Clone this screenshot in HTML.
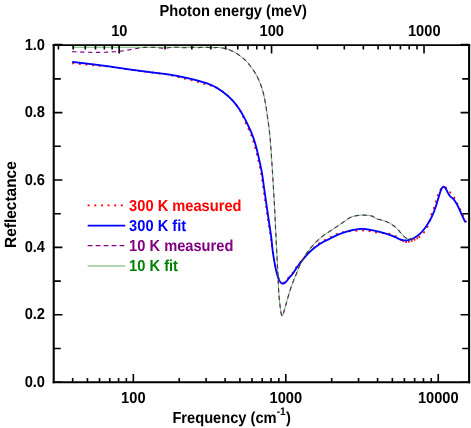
<!DOCTYPE html>
<html>
<head>
<meta charset="utf-8">
<title>Reflectance</title>
<style>
html,body{margin:0;padding:0;background:#fff;}
body{width:471px;height:428px;overflow:hidden;font-family:"Liberation Sans",sans-serif;}
svg{display:block;will-change:transform;}
</style>
</head>
<body>
<svg width="471" height="428" viewBox="0 0 471 428">
<g fill="none" stroke-linecap="butt" stroke-linejoin="round">
<path d="M72.20 63.30L72.80 63.36L73.39 63.41L73.99 63.47L74.58 63.52L75.18 63.58L75.78 63.63L76.37 63.69L76.97 63.75L77.56 63.80L78.16 63.86L78.76 63.92L79.35 63.97L79.95 64.03L80.54 64.09L81.14 64.15L81.74 64.21L82.33 64.26L82.93 64.32L83.52 64.38L84.12 64.44L84.72 64.50L85.31 64.56L85.91 64.61L86.50 64.67L87.10 64.73L87.69 64.79L88.29 64.85L88.89 64.91L89.48 64.97L90.08 65.03L90.67 65.09L91.27 65.15L91.86 65.21L92.46 65.27L93.06 65.33L93.65 65.39L94.25 65.45L94.84 65.51L95.44 65.57L96.03 65.63L96.63 65.67L97.22 65.71L97.82 65.76L98.41 65.80L99.01 65.84L99.61 65.89L100.20 65.93L100.80 65.97L101.39 66.02L101.99 66.06L102.58 66.11L103.18 66.15L103.77 66.20L104.37 66.24L104.96 66.29L105.55 66.33L106.15 66.38L106.74 66.43L107.34 66.48L107.93 66.53L108.53 66.61L109.12 66.69L109.71 66.77L110.31 66.86L110.90 66.94L111.50 67.03L112.09 67.11L112.68 67.20L113.28 67.28L113.87 67.37L114.46 67.45L115.06 67.54L115.65 67.63L116.25 67.72L116.84 67.80L117.43 67.89L118.03 67.98L118.62 68.07L119.21 68.16L119.81 68.24L120.40 68.33L120.99 68.42L121.59 68.51L122.18 68.59L122.77 68.68L123.37 68.77L123.96 68.86L124.55 68.94L125.15 69.03L125.74 69.11L126.34 69.20L126.93 69.28L127.52 69.37L128.12 69.45L128.71 69.53L129.31 69.62L129.90 69.70L130.49 69.78L131.09 69.86L131.68 69.94L132.28 70.02L132.87 70.10L133.47 70.18L134.06 70.26L134.66 70.34L135.25 70.42L135.84 70.49L136.44 70.57L137.03 70.65L137.63 70.73L138.22 70.81L138.82 70.88L139.41 70.96L140.01 71.04L140.60 71.12L141.20 71.19L141.79 71.27L142.39 71.35L142.98 71.42L143.58 71.50L144.17 71.58L144.77 71.65L145.36 71.73L145.96 71.80L146.55 71.88L147.15 71.96L147.74 72.03L148.34 72.11L148.93 72.18L149.53 72.26L150.12 72.34L150.72 72.41L151.31 72.49L151.91 72.56L152.50 72.64L153.10 72.71L153.69 72.79L154.29 72.86L154.89 72.93L155.48 73.00L156.08 73.07L156.67 73.14L157.27 73.21L157.87 73.29L158.46 73.36L159.06 73.43L159.65 73.50L160.25 73.57L160.84 73.64L161.44 73.71L162.04 73.78L162.63 73.86L163.23 73.93L163.82 74.00L164.42 74.08L165.01 74.15L165.61 74.27L166.20 74.38L166.80 74.49L167.39 74.61L167.98 74.73L168.58 74.85L169.17 74.97L169.76 75.09L170.36 75.21L170.95 75.34L171.54 75.47L172.13 75.60L172.73 75.73L173.32 75.87L173.91 76.01L174.50 76.15L175.09 76.29L175.68 76.43L176.27 76.57L176.86 76.72L177.45 76.87L178.04 77.02L178.62 77.16L179.21 77.30L179.80 77.45L180.39 77.59L180.97 77.74L181.56 77.89L182.15 78.03L182.73 78.18L183.32 78.33L183.91 78.47L184.49 78.62L185.08 78.77L185.67 78.92L186.25 79.07L186.83 79.20L187.41 79.33L187.99 79.46L188.57 79.60L189.15 79.73L189.73 79.87L190.31 80.00L190.89 80.14L191.47 80.28L192.05 80.41L192.62 80.55L193.20 80.69L193.78 80.83L194.36 80.98L194.93 81.13L195.51 81.28L196.08 81.43L196.65 81.59L197.23 81.76L197.80 81.92L198.37 82.09L198.94 82.26L199.51 82.43L200.08 82.61L200.65 82.78L201.21 82.95L201.78 83.13L202.35 83.30L202.92 83.48L203.49 83.65L204.06 83.82L204.63 84.00L205.21 84.12L205.78 84.24L206.35 84.37L206.92 84.51L207.49 84.65L208.05 84.80L208.61 84.95L209.17 85.12L209.72 85.29L210.28 85.48L210.83 85.66L211.37 85.86L211.92 86.05L212.49 86.23L213.07 86.42L213.64 86.60L214.21 86.80L214.78 87.00L215.34 87.20L215.90 87.41L216.46 87.63L217.01 87.85L217.52 88.15L218.03 88.46L218.54 88.78L219.05 89.10L219.55 89.43L220.05 89.77L220.55 90.11L221.04 90.45L221.54 90.80L222.02 91.15L222.51 91.50L222.99 91.86L223.47 92.22L223.95 92.58L224.42 92.95L224.89 93.32L225.36 93.69L225.83 94.07L226.30 94.45L226.76 94.83L227.22 95.22L227.68 95.61L228.14 96.01L228.59 96.41L229.03 96.81L229.47 97.22L229.91 97.63L230.34 98.04L230.77 98.46L231.18 98.89L231.60 99.31L232.01 99.75L232.42 100.19L232.82 100.63L233.23 101.08L233.62 101.53L234.02 101.98L234.41 102.44L234.80 102.90L235.18 103.37L235.56 103.84L235.93 104.31L236.31 104.79L236.67 105.26L237.03 105.74L237.39 106.22L237.74 106.71L238.09 107.19L238.44 107.68L238.74 108.18L239.05 108.68L239.34 109.19L239.64 109.70L239.93 110.21L240.22 110.73L240.50 111.25L240.78 111.77L241.06 112.29L241.34 112.82L241.61 113.35L241.88 113.87L242.11 114.41L242.33 114.95L242.56 115.49L242.78 116.03L243.00 116.57L243.22 117.11L243.43 117.65L243.64 118.20L243.85 118.74L244.06 119.29L244.26 119.84L244.46 120.40L244.65 120.95L244.92 121.49L245.18 122.02L245.44 122.56L245.70 123.10L245.96 123.63L246.22 124.17L246.48 124.71L246.73 125.25L246.99 125.78L247.25 126.32L247.51 126.86L247.76 127.40L248.02 127.94L248.27 128.48L248.52 129.02L248.77 129.56L249.02 130.11L249.26 130.65L249.50 131.20L249.74 131.74L249.97 132.29L250.20 132.84L250.42 133.39L250.65 133.94L250.87 134.50L251.09 135.05L251.30 135.61L251.52 136.17L251.73 136.72L251.93 137.28L252.14 137.84L252.34 138.41L252.53 138.97L252.73 139.53L252.91 140.10L253.10 140.66L253.28 141.23L253.46 141.80L253.63 142.37L253.80 142.94L253.97 143.51L254.14 144.08L254.30 144.66L254.46 145.23L254.62 145.81L254.78 146.38L254.93 146.96L255.09 147.54L255.25 148.12L255.41 148.70L255.56 149.28L255.72 149.86L255.87 150.44L256.02 151.02L256.17 151.61L256.32 152.19L256.46 152.77L256.61 153.36L256.75 153.94L256.90 154.53L257.04 155.11L257.18 155.70L257.32 156.28L257.46 156.87L257.60 157.45L257.74 158.04L257.88 158.62L258.01 159.21L258.15 159.80L258.29 160.38L258.42 160.97L258.56 161.55L258.69 162.14L258.83 162.73L258.97 163.31L259.10 163.90L259.24 164.48L259.37 165.07L259.50 165.66L259.64 166.25L259.77 166.83L259.90 167.42L260.02 168.01L260.15 168.60L260.28 169.18L260.40 169.77L260.52 170.36L260.64 170.95L260.76 171.54L260.87 172.13L260.98 172.72L261.09 173.31L261.19 173.90L261.29 174.49L261.38 175.09L261.48 175.68L261.57 176.27L261.66 176.86L261.75 177.46L261.84 178.05L261.93 178.65L262.01 179.24L262.10 179.83L262.18 180.43L262.27 181.02L262.35 181.62L262.43 182.21L262.51 182.81L262.59 183.40L262.68 184.00L262.76 184.59L262.84 185.19L262.92 185.78L263.01 186.38L263.09 186.97L263.18 187.57L263.26 188.16L263.35 188.75L263.44 189.35L263.53 189.94L263.61 190.54L263.70 191.13L263.79 191.72L263.87 192.32L263.96 192.91L264.05 193.51L264.13 194.10L264.22 194.69L264.31 195.29L264.39 195.88L264.48 196.48L264.57 197.07L264.65 197.66L264.74 198.26L264.83 198.85L264.92 199.45L265.00 200.04L265.09 200.63L265.18 201.23L265.26 201.82L265.35 202.42L265.44 203.01L265.53 203.60L265.61 204.20L265.70 204.79L265.79 205.39L265.88 205.98L265.96 206.57L266.05 207.17L266.14 207.76L266.23 208.35L266.32 208.95L266.40 209.54L266.49 210.14L266.58 210.73L266.67 211.32L266.76 211.92L266.85 212.51L266.93 213.10L267.02 213.70L267.11 214.29L267.20 214.89L267.29 215.48L267.38 216.07L267.47 216.67L267.56 217.26L267.65 217.85L267.74 218.45L267.83 219.04L267.92 219.63L268.01 220.23L268.10 220.82L268.19 221.41L268.28 222.01L268.37 222.60L268.46 223.19L268.55 223.79L268.64 224.38L268.73 224.98L268.82 225.57L268.91 226.16L269.00 226.76L269.09 227.35L269.18 227.94L269.28 228.53L269.39 229.13L269.49 229.72L269.60 230.31L269.70 230.90L269.80 231.49L269.90 232.08L270.01 232.67L270.11 233.26L270.21 233.85L270.31 234.44L270.40 235.03L270.50 235.63L270.60 236.22L270.69 236.81L270.78 237.40L270.87 237.99L270.96 238.59L271.05 239.18L271.13 239.77L271.21 240.36L271.29 240.96L271.37 241.55L271.44 242.15L271.52 242.74L271.59 243.33L271.66 243.93L271.73 244.52L271.80 245.12L271.87 245.71L271.94 246.31L272.02 246.90L272.09 247.50L272.17 248.09L272.25 248.68L272.33 249.28L272.42 249.87L272.51 250.46L272.60 251.05L272.69 251.64L272.78 252.24L272.88 252.83L272.98 253.42L273.08 254.01L273.18 254.60L273.29 255.19L273.39 255.78L273.50 256.37L273.61 256.96L273.72 257.55L273.83 258.14L273.94 258.73L274.05 259.32L274.17 259.91L274.28 260.50L274.40 261.09L274.52 261.67L274.63 262.26L274.75 262.85L274.87 263.44L274.99 264.03L275.12 264.62L275.24 265.21L275.37 265.79L275.50 266.38L275.63 266.97L275.76 267.55L275.90 268.14L276.04 268.72L276.18 269.30L276.33 269.88L276.46 270.43L276.59 270.98L276.72 271.53L276.86 272.09L277.00 272.64L277.14 273.20L277.29 273.75L277.44 274.31L277.60 274.86L277.76 275.41L277.94 275.95L278.12 276.49L278.30 277.03L278.50 277.55L278.71 278.07L278.93 278.59L279.16 279.09L279.41 279.60L279.69 280.12L280.01 280.61L280.35 281.08L280.71 281.49L281.12 281.87L281.60 282.26L282.13 282.57L282.66 282.70L283.19 282.64L283.76 282.44L284.30 282.18L284.77 281.90L285.20 281.54L285.61 281.12L286.00 280.68L286.38 280.26L286.75 279.83L287.12 279.39L287.47 278.94L287.81 278.48L288.15 278.02L288.49 277.55L288.83 277.09L289.18 276.64L289.53 276.19L289.92 275.74L290.32 275.31L290.76 274.90L291.19 274.49L291.58 274.06L291.96 273.61L292.32 273.15L292.68 272.68L293.02 272.20L293.36 271.72L293.69 271.23L294.02 270.74L294.35 270.24L294.68 269.75L295.00 269.25L295.33 268.75L295.65 268.26L295.99 267.76L296.32 267.28L296.67 266.80L297.02 266.32L297.38 265.85L297.74 265.38L298.10 264.92L298.47 264.45L298.83 263.99L299.20 263.53L299.57 263.07L299.95 262.61L300.33 262.13L300.71 261.66L301.09 261.19L301.48 260.73L301.87 260.26L302.25 259.79L302.64 259.32L303.03 258.86L303.42 258.39L303.81 257.93L304.20 257.46L304.60 257.00L305.00 256.54L305.40 256.09L305.80 255.64L306.21 255.19L306.62 254.75L307.04 254.31L307.46 253.87L307.88 253.43L308.31 253.00L308.74 252.57L309.18 252.14L309.62 251.72L310.06 251.30L310.50 250.89L310.95 250.49L311.41 250.08L311.87 249.69L312.30 249.26L312.75 248.84L313.20 248.42L313.65 248.00L314.10 247.59L314.56 247.18L315.02 246.78L315.48 246.38L315.95 245.98L316.41 245.58L316.88 245.18L317.34 244.79L317.81 244.40L318.29 244.01L318.76 243.62L319.24 243.25L319.73 242.88L320.21 242.52L320.72 242.20L321.24 241.89L321.76 241.59L322.29 241.30L322.81 241.00L323.35 240.72L323.88 240.44L324.42 240.16L324.95 239.89L325.49 239.62L326.04 239.36L326.59 239.11L327.13 238.87L327.68 238.61L328.23 238.36L328.77 238.09L329.31 237.83L329.85 237.55L330.38 237.28L330.92 237.00L331.45 236.72L331.99 236.44L332.52 236.16L333.06 235.88L333.60 235.60L334.14 235.33L334.68 235.07L335.22 234.81L335.76 234.56L336.31 234.32L336.87 234.08L337.42 233.85L337.98 233.62L338.54 233.40L339.10 233.18L339.66 232.96L340.24 232.82L340.82 232.68L341.40 232.55L341.98 232.43L342.56 232.31L343.14 232.19L343.73 232.08L344.31 231.97L344.90 231.87L345.49 231.77L346.08 231.67L346.67 231.57L347.26 231.47L347.83 231.42L348.41 231.37L348.99 231.32L349.57 231.28L350.15 231.25L350.74 231.22L351.32 231.20L351.91 231.18L352.49 231.18L353.08 231.19L353.67 231.12L354.26 231.05L354.85 230.97L355.44 230.90L356.03 230.83L356.63 230.76L357.23 230.70L357.82 230.64L358.42 230.59L359.02 230.55L359.62 230.52L360.22 230.49L360.82 230.48L361.41 230.48L362.01 230.50L362.61 230.50L363.20 230.51L363.80 230.54L364.40 230.58L364.99 230.63L365.59 230.69L366.19 230.77L366.78 230.84L367.38 230.92L367.98 231.01L368.57 231.10L369.17 231.19L369.76 231.28L370.35 231.36L370.94 231.44L371.53 231.54L372.12 231.63L372.71 231.74L373.30 231.85L373.89 231.96L374.48 232.08L375.06 232.20L375.65 232.33L376.23 232.46L376.82 232.49L377.40 232.52L377.99 232.55L378.57 232.59L379.15 232.62L379.73 232.66L380.31 232.70L380.89 232.75L381.47 232.79L382.05 232.84L382.63 232.90L383.21 232.95L383.79 233.01L384.39 233.07L384.98 233.13L385.58 233.20L386.17 233.27L386.77 233.34L387.36 233.41L387.95 233.49L388.54 233.57L389.13 233.65L389.69 233.85L390.26 234.06L390.82 234.27L391.38 234.48L391.94 234.70L392.50 234.92L393.06 235.14L393.62 235.36L394.18 235.59L394.73 235.81L395.29 236.04L395.84 236.27L396.39 236.52L396.90 236.95L397.42 237.40L397.93 237.85L398.44 238.29L398.95 238.72L399.47 239.13L400.00 239.51L400.58 239.83L401.18 240.14L401.78 240.46L402.39 240.77" stroke="#ff0000" stroke-width="1.7" stroke-dasharray="2.0 4.65"/>
<path d="M402.39 240.77L403.00 241.07L403.61 241.35L404.23 241.61L404.84 241.84L405.45 242.04L406.06 242.20L406.69 242.16L407.32 242.09L407.95 241.98L408.58 241.84L409.21 241.68L409.83 241.51L410.45 241.32L411.06 241.14L411.66 240.96L412.26 240.76L412.85 240.54L413.44 240.30L414.02 240.03L414.60 239.75L415.17 239.46L415.73 239.15L416.30 238.84L416.86 238.52L417.42 238.20L417.96 237.87L418.50 237.52" stroke="#ff0000" stroke-width="1.7" stroke-dasharray="1.7 1.3"/>
<path d="M418.50 237.52L419.03 237.16L419.56 236.78L420.09 236.40L420.60 236.00L421.11 235.60L421.61 235.18L422.04 234.72L422.47 234.26L422.88 233.79L423.29 233.31L423.69 232.83L424.09 232.34L424.48 231.84L424.86 231.33L425.24 230.82L425.57 230.29L425.90 229.75L426.22 229.20L426.53 228.66L426.84 228.11L427.14 227.55L427.44 227.00L427.74 226.44L428.02 225.88L428.31 225.32L428.59 224.76L428.87 224.20L429.05 223.62L429.24 223.03L429.42 222.45L429.59 221.86L429.77 221.26L429.93 220.67L430.10 220.07L430.19 219.50L430.27 218.92L430.35 218.34L430.42 217.77L430.49 217.19L430.55 216.60L430.61 216.02L430.86 215.48L431.11 214.93L431.35 214.38L431.59 213.83L431.82 213.27L432.05 212.71L432.27 212.15L432.49 211.59L432.71 211.03L432.92 210.46L433.13 209.89L433.33 209.33L433.54 208.76L433.74 208.19L433.94 207.62L434.14 207.05L434.33 206.48L434.52 205.91L434.71 205.34L434.89 204.76L435.07 204.19L435.25 203.61L435.42 203.04L435.60 202.46L435.77 201.88L435.94 201.30L436.11 200.72L436.28 200.15L436.46 199.57L436.63 198.99L436.80 198.41L436.98 197.84L437.16 197.26L437.34 196.69L437.52 196.11L437.76 195.55L437.99 194.98L438.22 194.42L438.45 193.85L438.68 193.28L438.92 192.72L439.16 192.16L439.41 191.61L439.68 191.06L439.95 190.53L440.25 190.01L440.56 189.51L440.90 188.96L441.29 188.34L441.72 187.74L442.17 187.23L442.79 186.79L443.43 186.58L444.10 186.64L444.83 186.91L445.57 187.30L446.16 187.71L446.65 188.08L447.09 188.48L447.50 188.91L447.88 189.38L448.24 189.86L448.61 190.35L448.98 190.84L449.38 191.30L449.80 191.74L450.07 192.27L450.35 192.80L450.64 193.33L450.95 193.85L451.26 194.35L451.59 194.83L451.94 195.30L452.32 195.72L452.75 196.13L453.20 196.51L453.65 196.89L454.04 197.35L454.40 197.82L454.71 198.31L455.01 198.84L455.29 199.37L455.56 199.93L455.82 200.49L456.07 201.07L456.31 201.65L456.54 202.24L456.76 202.82L457.07 203.34L457.38 203.86L457.67 204.39L457.96 204.92L458.24 205.45L458.52 206.00L458.79 206.54L459.06 207.09L459.32 207.63L459.58 208.18L459.84 208.73L460.10 209.28L460.36 209.83L460.62 210.38L460.89 210.93L461.14 211.48L461.40 212.03L461.65 212.58L461.90 213.13L462.15 213.68L462.40 214.24L462.65 214.79L462.91 215.34L463.16 215.89L463.41 216.44L463.67 216.99L463.93 217.54L464.19 218.09L464.45 218.64L464.71 219.19L464.98 219.74L465.24 220.29L465.52 220.84L465.79 221.38L466.06 221.93L466.30 222.40" stroke="#ff0000" stroke-width="1.7" stroke-dasharray="2.0 4.65"/>
<path d="M72.20 61.90L72.80 61.97L73.39 62.04L73.99 62.10L74.58 62.17L75.18 62.24L75.78 62.31L76.37 62.38L76.97 62.45L77.56 62.51L78.16 62.58L78.76 62.65L79.35 62.72L79.95 62.79L80.54 62.86L81.14 62.94L81.74 63.01L82.33 63.08L82.93 63.15L83.52 63.22L84.12 63.29L84.72 63.36L85.31 63.43L85.91 63.50L86.50 63.57L87.10 63.64L87.69 63.72L88.29 63.79L88.89 63.86L89.48 63.93L90.08 64.00L90.67 64.07L91.27 64.15L91.86 64.22L92.46 64.29L93.06 64.36L93.65 64.44L94.25 64.51L94.84 64.58L95.44 64.66L96.03 64.73L96.63 64.81L97.22 64.88L97.82 64.95L98.41 65.03L99.01 65.10L99.61 65.18L100.20 65.26L100.80 65.33L101.39 65.41L101.99 65.49L102.58 65.56L103.18 65.64L103.77 65.72L104.37 65.80L104.96 65.87L105.55 65.95L106.15 66.03L106.74 66.11L107.34 66.19L107.93 66.28L108.53 66.36L109.12 66.44L109.71 66.53L110.31 66.61L110.90 66.70L111.50 66.78L112.09 66.87L112.68 66.95L113.28 67.04L113.87 67.13L114.46 67.22L115.06 67.30L115.65 67.39L116.25 67.48L116.84 67.57L117.43 67.66L118.03 67.75L118.62 67.84L119.21 67.93L119.81 68.01L120.40 68.10L120.99 68.19L121.59 68.28L122.18 68.37L122.77 68.46L123.37 68.55L123.96 68.63L124.55 68.72L125.15 68.81L125.74 68.89L126.34 68.98L126.93 69.07L127.52 69.15L128.12 69.24L128.71 69.32L129.31 69.40L129.90 69.49L130.49 69.57L131.09 69.65L131.68 69.73L132.28 69.81L132.87 69.89L133.47 69.97L134.06 70.05L134.66 70.13L135.25 70.21L135.84 70.29L136.44 70.37L137.03 70.45L137.63 70.53L138.22 70.61L138.82 70.69L139.41 70.77L140.01 70.84L140.60 70.92L141.20 71.00L141.79 71.08L142.39 71.16L142.98 71.23L143.58 71.31L144.17 71.39L144.77 71.47L145.36 71.54L145.96 71.62L146.55 71.70L147.15 71.77L147.74 71.85L148.34 71.93L148.93 72.01L149.53 72.08L150.12 72.16L150.72 72.24L151.31 72.31L151.91 72.39L152.50 72.47L153.10 72.54L153.69 72.62L154.29 72.69L154.89 72.76L155.48 72.84L156.08 72.91L156.67 72.98L157.27 73.05L157.87 73.12L158.46 73.19L159.06 73.27L159.65 73.34L160.25 73.41L160.84 73.48L161.44 73.55L162.04 73.63L162.63 73.70L163.23 73.78L163.82 73.85L164.42 73.93L165.01 74.00L165.61 74.08L166.20 74.16L166.80 74.24L167.39 74.32L167.98 74.41L168.58 74.49L169.17 74.58L169.76 74.66L170.36 74.75L170.95 74.85L171.54 74.94L172.13 75.04L172.73 75.14L173.32 75.24L173.91 75.34L174.50 75.45L175.09 75.56L175.68 75.67L176.27 75.78L176.86 75.89L177.45 76.00L178.04 76.12L178.62 76.24L179.21 76.36L179.80 76.48L180.39 76.61L180.97 76.73L181.56 76.86L182.15 76.98L182.73 77.11L183.32 77.23L183.91 77.36L184.49 77.48L185.08 77.61L185.67 77.74L186.25 77.87L186.84 78.00L187.43 78.12L188.01 78.26L188.60 78.39L189.18 78.52L189.77 78.65L190.35 78.78L190.94 78.91L191.52 79.05L192.11 79.18L192.69 79.32L193.28 79.45L193.86 79.59L194.44 79.73L195.03 79.88L195.61 80.03L196.19 80.18L196.77 80.34L197.34 80.50L197.92 80.66L198.50 80.82L199.08 80.99L199.65 81.16L200.23 81.33L200.80 81.50L201.38 81.67L201.95 81.85L202.53 82.02L203.10 82.19L203.68 82.35L204.26 82.53L204.83 82.70L205.41 82.87L205.98 83.05L206.55 83.23L207.12 83.42L207.69 83.62L208.25 83.82L208.81 84.03L209.37 84.25L209.92 84.48L210.48 84.71L211.03 84.96L211.57 85.20L212.12 85.45L212.66 85.71L213.20 85.97L213.74 86.24L214.28 86.51L214.81 86.78L215.34 87.07L215.87 87.35L216.39 87.65L216.91 87.95L217.42 88.25L217.93 88.56L218.44 88.88L218.95 89.20L219.45 89.53L219.95 89.87L220.45 90.21L220.94 90.55L221.44 90.90L221.92 91.25L222.41 91.60L222.89 91.96L223.37 92.32L223.85 92.68L224.32 93.05L224.79 93.42L225.26 93.79L225.73 94.17L226.20 94.55L226.66 94.93L227.12 95.32L227.58 95.71L228.04 96.11L228.49 96.51L228.93 96.91L229.37 97.32L229.81 97.73L230.24 98.14L230.67 98.56L231.08 98.99L231.50 99.41L231.91 99.85L232.32 100.29L232.72 100.73L233.13 101.18L233.52 101.63L233.92 102.08L234.31 102.54L234.70 103.00L235.08 103.47L235.46 103.94L235.83 104.41L236.21 104.89L236.57 105.36L236.93 105.84L237.29 106.32L237.64 106.81L237.99 107.29L238.34 107.78L238.68 108.27L239.01 108.76L239.34 109.26L239.67 109.76L240.00 110.27L240.32 110.78L240.64 111.29L240.95 111.80L241.26 112.32L241.57 112.83L241.87 113.35L242.18 113.87L242.48 114.40L242.77 114.92L243.07 115.44L243.36 115.97L243.65 116.49L243.94 117.02L244.22 117.54L244.50 118.07L244.77 118.61L245.05 119.14L245.32 119.68L245.59 120.21L245.85 120.75L246.12 121.29L246.38 121.83L246.64 122.37L246.90 122.91L247.16 123.46L247.42 124.00L247.68 124.54L247.93 125.08L248.19 125.62L248.45 126.16L248.71 126.71L248.96 127.25L249.22 127.79L249.47 128.34L249.72 128.88L249.97 129.43L250.22 129.98L250.46 130.53L250.70 131.08L250.94 131.63L251.17 132.18L251.40 132.73L251.62 133.29L251.85 133.85L252.07 134.40L252.29 134.96L252.50 135.52L252.72 136.08L252.93 136.65L253.13 137.21L253.34 137.78L253.54 138.34L253.73 138.91L253.93 139.48L254.11 140.04L254.30 140.61L254.48 141.19L254.66 141.76L254.83 142.33L255.00 142.91L255.17 143.49L255.34 144.06L255.50 144.64L255.66 145.22L255.82 145.80L255.98 146.38L256.13 146.96L256.28 147.54L256.44 148.12L256.59 148.70L256.73 149.28L256.88 149.86L257.03 150.44L257.17 151.02L257.31 151.61L257.45 152.19L257.60 152.77L257.73 153.36L257.87 153.94L258.01 154.53L258.14 155.11L258.28 155.70L258.41 156.28L258.55 156.87L258.68 157.45L258.81 158.04L258.94 158.62L259.07 159.21L259.20 159.80L259.33 160.38L259.46 160.97L259.59 161.55L259.72 162.14L259.85 162.73L259.97 163.31L260.10 163.90L260.23 164.48L260.36 165.07L260.48 165.66L260.61 166.25L260.73 166.83L260.86 167.42L260.98 168.01L261.10 168.60L261.22 169.18L261.33 169.77L261.45 170.36L261.56 170.95L261.67 171.54L261.78 172.13L261.88 172.72L261.98 173.31L262.08 173.90L262.18 174.49L262.28 175.09L262.37 175.68L262.46 176.27L262.55 176.86L262.64 177.46L262.72 178.05L262.81 178.65L262.89 179.24L262.97 179.83L263.05 180.43L263.14 181.02L263.22 181.62L263.30 182.21L263.38 182.81L263.46 183.40L263.54 184.00L263.62 184.59L263.70 185.19L263.78 185.78L263.86 186.38L263.94 186.97L264.02 187.57L264.11 188.16L264.19 188.75L264.28 189.35L264.36 189.94L264.45 190.54L264.53 191.13L264.62 191.72L264.70 192.32L264.79 192.91L264.87 193.51L264.96 194.10L265.04 194.69L265.13 195.29L265.21 195.88L265.29 196.48L265.38 197.07L265.46 197.66L265.55 198.26L265.63 198.85L265.72 199.45L265.80 200.04L265.89 200.63L265.97 201.23L266.06 201.82L266.14 202.42L266.23 203.01L266.32 203.60L266.40 204.20L266.49 204.79L266.57 205.39L266.66 205.98L266.74 206.57L266.83 207.17L266.91 207.76L267.00 208.35L267.08 208.95L267.17 209.54L267.26 210.14L267.34 210.73L267.43 211.32L267.52 211.92L267.60 212.51L267.69 213.10L267.78 213.70L267.86 214.29L267.95 214.89L268.04 215.48L268.13 216.07L268.21 216.67L268.30 217.26L268.39 217.85L268.48 218.45L268.57 219.04L268.65 219.63L268.74 220.23L268.83 220.82L268.92 221.41L269.01 222.01L269.09 222.60L269.18 223.19L269.27 223.79L269.35 224.38L269.44 224.98L269.53 225.57L269.61 226.16L269.70 226.76L269.79 227.35L269.88 227.94L269.97 228.54L270.06 229.13L270.15 229.72L270.24 230.32L270.33 230.91L270.42 231.50L270.51 232.10L270.59 232.69L270.68 233.29L270.77 233.88L270.85 234.47L270.93 235.07L271.02 235.66L271.10 236.26L271.18 236.85L271.26 237.45L271.33 238.04L271.41 238.64L271.48 239.23L271.55 239.83L271.62 240.42L271.68 241.02L271.74 241.62L271.80 242.21L271.86 242.81L271.92 243.41L271.98 244.01L272.04 244.60L272.09 245.20L272.15 245.80L272.21 246.39L272.27 246.99L272.33 247.59L272.39 248.19L272.46 248.78L272.53 249.38L272.60 249.97L272.67 250.57L272.75 251.16L272.83 251.76L272.91 252.35L272.99 252.95L273.07 253.54L273.16 254.13L273.25 254.73L273.34 255.32L273.43 255.92L273.52 256.51L273.62 257.10L273.71 257.69L273.81 258.29L273.91 258.88L274.01 259.47L274.11 260.06L274.21 260.65L274.31 261.24L274.41 261.83L274.52 262.43L274.62 263.02L274.73 263.61L274.83 264.20L274.94 264.79L275.05 265.38L275.17 265.97L275.28 266.56L275.40 267.15L275.52 267.74L275.64 268.33L275.77 268.91L275.90 269.50L276.03 270.08L276.17 270.66L276.31 271.25L276.46 271.83L276.60 272.41L276.75 273.00L276.91 273.58L277.07 274.17L277.23 274.75L277.40 275.33L277.58 275.91L277.76 276.49L277.95 277.06L278.15 277.63L278.36 278.18L278.58 278.74L278.81 279.28L279.05 279.81L279.32 280.36L279.61 280.90L279.94 281.43L280.29 281.92L280.67 282.37L281.09 282.77L281.58 283.20L282.11 283.54L282.66 283.70L283.22 283.62L283.80 283.41L284.37 283.13L284.86 282.83L285.32 282.45L285.75 282.02L286.16 281.56L286.57 281.12L286.97 280.67L287.35 280.21L287.73 279.74L288.09 279.27L288.46 278.79L288.82 278.31L289.19 277.83L289.56 277.35L289.93 276.89L290.32 276.43L290.72 275.98L291.15 275.56L291.58 275.14L291.96 274.69L292.34 274.23L292.70 273.75L293.05 273.27L293.39 272.78L293.73 272.28L294.06 271.78L294.38 271.27L294.71 270.76L295.03 270.25L295.35 269.74L295.67 269.23L296.00 268.72L296.32 268.22L296.66 267.72L297.00 267.22L297.35 266.73L297.70 266.25L298.06 265.77L298.42 265.29L298.78 264.81L299.14 264.33L299.51 263.85L299.88 263.38L300.25 262.91L300.62 262.43L300.99 261.96L301.36 261.49L301.74 261.03L302.11 260.56L302.49 260.09L302.87 259.62L303.24 259.16L303.62 258.69L304.00 258.23L304.39 257.76L304.77 257.30L305.16 256.84L305.55 256.39L305.95 255.94L306.35 255.49L306.75 255.05L307.15 254.61L307.56 254.17L307.98 253.73L308.39 253.30L308.82 252.87L309.24 252.44L309.67 252.02L310.10 251.60L310.54 251.19L310.97 250.79L311.42 250.38L311.87 249.99L312.32 249.60L312.78 249.21L313.25 248.83L313.72 248.46L314.19 248.09L314.66 247.72L315.14 247.35L315.62 246.99L316.10 246.63L316.58 246.27L317.06 245.91L317.54 245.55L318.03 245.20L318.52 244.85L319.01 244.51L319.51 244.17L320.01 243.84L320.51 243.52L321.02 243.20L321.53 242.89L322.05 242.59L322.57 242.30L323.10 242.00L323.63 241.72L324.16 241.44L324.69 241.16L325.23 240.89L325.76 240.62L326.31 240.36L326.85 240.11L327.40 239.87L327.94 239.61L328.49 239.36L329.03 239.09L329.56 238.83L330.10 238.55L330.63 238.28L331.16 238.00L331.70 237.72L332.23 237.44L332.76 237.16L333.29 236.88L333.83 236.60L334.36 236.33L334.90 236.07L335.44 235.81L335.98 235.56L336.53 235.32L337.08 235.08L337.63 234.85L338.19 234.62L338.74 234.40L339.30 234.18L339.86 233.96L340.42 233.74L340.99 233.53L341.55 233.32L342.12 233.12L342.68 232.92L343.25 232.73L343.82 232.54L344.39 232.35L344.96 232.17L345.53 232.00L346.11 231.82L346.68 231.64L347.26 231.47L347.83 231.30L348.41 231.13L348.99 230.96L349.57 230.80L350.15 230.65L350.74 230.50L351.32 230.36L351.91 230.22L352.49 230.10L353.08 229.99L353.67 229.89L354.26 229.79L354.85 229.69L355.44 229.60L356.03 229.50L356.63 229.40L357.23 229.32L357.82 229.23L358.42 229.15L359.02 229.08L359.62 229.02L360.22 228.97L360.82 228.93L361.41 228.91L362.01 228.90L362.61 228.91L363.20 228.93L363.80 228.96L364.40 229.01L364.99 229.07L365.59 229.14L366.19 229.22L366.78 229.31L367.38 229.40L367.98 229.49L368.57 229.59L369.17 229.69L369.76 229.78L370.35 229.88L370.94 229.97L371.53 230.07L372.12 230.18L372.71 230.29L373.30 230.40L373.89 230.53L374.48 230.65L375.06 230.78L375.65 230.92L376.23 231.06L376.82 231.19L377.40 231.33L377.99 231.48L378.57 231.62L379.15 231.76L379.73 231.91L380.31 232.06L380.89 232.21L381.47 232.36L382.05 232.52L382.63 232.68L383.21 232.85L383.79 233.01L384.36 233.18L384.94 233.36L385.51 233.53L386.09 233.71L386.66 233.89L387.23 234.08L387.80 234.26L388.36 234.46L388.93 234.65L389.49 234.85L390.06 235.06L390.62 235.27L391.18 235.48L391.74 235.70L392.30 235.92L392.86 236.14L393.42 236.36L393.98 236.59L394.53 236.81L395.09 237.04L395.64 237.27L396.19 237.52L396.73 237.78L397.27 238.05L397.81 238.33L398.35 238.61L398.89 238.87L399.44 239.10L400.00 239.31L400.56 239.48L401.14 239.64L401.72 239.81L402.31 239.97L402.90 240.12L403.49 240.25L404.09 240.36L404.68 240.44L405.27 240.49L405.86 240.50L406.45 240.46L407.05 240.39L407.64 240.28L408.23 240.14L408.82 239.98L409.41 239.81L409.99 239.62L410.56 239.44L411.12 239.26L411.68 239.06L412.24 238.84L412.79 238.60L413.33 238.33L413.87 238.05L414.41 237.76L414.93 237.45L415.45 237.14L415.95 236.82L416.45 236.50L416.94 236.17L417.43 235.82L417.91 235.46L418.38 235.08L418.85 234.70L419.31 234.30L419.76 233.90L420.21 233.48L420.64 233.07L421.07 232.64L421.48 232.22L421.89 231.79L422.29 231.35L422.69 230.91L423.08 230.45L423.46 229.99L423.84 229.52L424.21 229.05L424.58 228.56L424.94 228.08L425.30 227.59L425.65 227.10L425.99 226.60L426.33 226.10L426.67 225.61L427.00 225.11L427.32 224.61L427.65 224.11L427.97 223.60L428.28 223.09L428.59 222.58L428.90 222.06L429.21 221.54L429.51 221.02L429.81 220.50L430.10 219.97L430.39 219.44L430.67 218.91L430.95 218.37L431.22 217.84L431.49 217.30L431.75 216.76L432.01 216.22L432.26 215.68L432.51 215.14L432.75 214.59L432.99 214.04L433.22 213.49L433.45 212.93L433.67 212.37L433.89 211.81L434.11 211.25L434.32 210.69L434.53 210.13L434.73 209.56L434.94 208.99L435.14 208.43L435.34 207.86L435.54 207.30L435.73 206.73L435.92 206.16L436.11 205.59L436.29 205.02L436.47 204.45L436.65 203.88L436.82 203.30L437.00 202.73L437.17 202.15L437.34 201.58L437.51 201.00L437.68 200.43L437.86 199.85L438.03 199.28L438.20 198.70L438.38 198.13L438.56 197.55L438.74 196.98L438.92 196.41L439.10 195.83L439.27 195.25L439.44 194.66L439.60 194.07L439.77 193.49L439.94 192.90L440.12 192.33L440.31 191.76L440.51 191.19L440.73 190.64L440.96 190.11L441.21 189.58L441.49 189.01L441.82 188.38L442.18 187.76L442.57 187.23L442.97 186.85L443.39 186.70L443.84 186.82L444.35 187.15L444.87 187.60L445.34 188.09L445.71 188.54L446.03 189.02L446.32 189.53L446.58 190.08L446.82 190.64L447.07 191.21L447.32 191.78L447.60 192.32L447.90 192.84L448.20 193.36L448.51 193.88L448.83 194.40L449.15 194.91L449.50 195.40L449.85 195.88L450.23 196.33L450.64 196.75L451.09 197.14L451.57 197.52L452.05 197.89L452.53 198.27L452.98 198.67L453.39 199.10L453.77 199.55L454.14 200.01L454.50 200.49L454.85 200.98L455.19 201.49L455.52 202.00L455.84 202.51L456.16 203.02L456.46 203.54L456.76 204.05L457.05 204.58L457.33 205.10L457.61 205.64L457.88 206.17L458.14 206.71L458.40 207.26L458.65 207.80L458.91 208.35L459.16 208.89L459.41 209.44L459.67 209.99L459.92 210.53L460.17 211.07L460.43 211.62L460.67 212.16L460.92 212.71L461.16 213.26L461.41 213.81L461.65 214.36L461.89 214.91L462.13 215.46L462.38 216.00L462.63 216.55L462.88 217.10L463.13 217.64L463.39 218.18L463.65 218.72L463.91 219.26L464.18 219.80L464.44 220.34L464.72 220.87L464.99 221.41L465.26 221.94L465.50 222.40" stroke="#0000ff" stroke-width="1.85"/>
<path d="M72.20 51.60L72.80 51.64L73.40 51.67L74.00 51.71L74.60 51.75L75.20 51.78L75.79 51.81L76.39 51.85L76.99 51.88L77.59 51.91L78.19 51.94L78.79 51.97L79.39 52.00L79.99 52.03L80.59 52.05L81.19 52.08L81.79 52.10L82.39 52.12L82.99 52.14L83.59 52.16L84.19 52.18L84.79 52.19L85.39 52.21L85.99 52.22L86.59 52.24L87.19 52.25L87.78 52.26L88.38 52.28L88.98 52.29L89.58 52.30L90.18 52.31L90.78 52.32L91.38 52.34L91.98 52.35L92.58 52.36L93.18 52.36L93.78 52.37L94.38 52.38L94.98 52.39L95.58 52.39L96.18 52.39L96.78 52.40L97.38 52.40L97.98 52.40L98.58 52.40L99.18 52.39L99.78 52.39L100.38 52.38L100.98 52.36L101.58 52.35L102.18 52.33L102.78 52.31L103.38 52.29L103.98 52.27L104.58 52.25L105.18 52.22L105.78 52.20L106.38 52.17L106.98 52.14L107.58 52.11L108.18 52.09L108.78 52.06L109.38 52.03L109.98 52.00L110.58 51.97L111.18 51.94L111.78 51.91L112.37 51.87L112.97 51.83L113.57 51.79L114.17 51.75L114.77 51.71L115.37 51.66L115.97 51.61L116.57 51.56L117.16 51.51L117.76 51.46L118.36 51.40L118.96 51.34L119.55 51.29L120.15 51.23L120.74 51.16L121.34 51.10L121.93 51.02L122.53 50.95L123.12 50.86L123.71 50.78L124.31 50.69L124.90 50.59L125.49 50.50L126.08 50.40L126.68 50.30L127.27 50.19L127.86 50.09L128.45 49.98L129.04 49.87L129.63 49.77L130.22 49.66L130.82 49.55L131.41 49.45L132.00 49.34L132.59 49.24L133.18 49.14L133.77 49.04L134.37 48.94L134.96 48.84L135.55 48.73L136.14 48.62L136.73 48.51L137.32 48.39L137.91 48.28L138.50 48.17L139.09 48.07L139.69 47.97L140.28 47.87L140.87 47.79L141.46 47.71L142.06 47.64L142.65 47.59L143.25 47.53L143.85 47.48L144.45 47.43L145.05 47.38L145.64 47.34L146.24 47.30L146.84 47.26L147.44 47.23L148.04 47.21L148.64 47.20L149.24 47.20L149.84 47.20L150.44 47.21L151.04 47.22L151.64 47.23L152.24 47.25L152.85 47.27L153.45 47.29L154.05 47.31L154.64 47.34L155.24 47.36L155.84 47.39L156.44 47.43L157.03 47.49L157.63 47.56L158.22 47.64L158.82 47.73L159.41 47.82L160.01 47.90L160.60 47.99L161.20 48.09L161.80 48.19L162.39 48.30L162.99 48.39L163.58 48.45L164.17 48.49L164.77 48.49L165.35 48.43L165.94 48.31L166.53 48.16L167.11 48.00L167.70 47.84L168.29 47.71L168.88 47.61L169.48 47.56L170.07 47.50L170.67 47.45L171.27 47.41L171.87 47.36L172.47 47.32L173.07 47.29L173.67 47.26L174.27 47.23L174.87 47.21L175.47 47.20L176.07 47.20L176.67 47.21L177.27 47.23L177.87 47.27L178.46 47.31L179.06 47.36L179.66 47.42L180.26 47.47L180.86 47.53L181.46 47.58L182.06 47.63L182.66 47.66L183.26 47.69L183.85 47.70L184.45 47.69L185.05 47.67L185.65 47.63L186.25 47.58L186.85 47.52L187.44 47.46L188.04 47.39L188.64 47.33L189.24 47.28L189.84 47.24L190.44 47.21L191.04 47.20L191.63 47.21L192.23 47.23L192.83 47.27L193.43 47.31L194.03 47.36L194.63 47.41L195.23 47.46L195.83 47.51L196.43 47.55L197.03 47.58L197.62 47.60L198.22 47.60L198.82 47.58L199.42 47.56L200.02 47.52L200.62 47.47L201.22 47.42L201.82 47.37L202.42 47.32L203.02 47.28L203.62 47.24L204.21 47.21L204.81 47.20L205.41 47.20L206.01 47.23L206.61 47.27L207.21 47.32L207.81 47.38L208.40 47.44L209.00 47.50L209.60 47.56L210.20 47.62L210.80 47.66L211.40 47.69L211.99 47.70L212.59 47.69L213.19 47.68L213.79 47.66L214.39 47.63L214.99 47.60L215.59 47.57L216.19 47.54L216.79 47.52L217.39 47.51L217.99 47.50L218.59 47.52L219.19 47.57L219.79 47.64L220.38 47.72L220.98 47.80L221.57 47.87L222.17 47.96L222.76 48.05L223.36 48.15L223.95 48.26L224.54 48.37L225.13 48.50L225.71 48.63L226.28 48.77L226.86 48.93L227.43 49.11L227.99 49.31L228.56 49.52L229.12 49.74L229.68 49.97L230.23 50.21L230.78 50.46L231.33 50.71L231.88 50.96L232.42 51.22L232.96 51.48L233.50 51.74L234.03 52.01L234.56 52.30L235.09 52.59L235.61 52.89L236.13 53.19L236.65 53.50L237.16 53.82L237.66 54.14L238.16 54.47L238.65 54.81L239.14 55.16L239.62 55.51L240.10 55.88L240.58 56.25L241.05 56.62L241.52 57.00L241.98 57.38L242.44 57.77L242.90 58.15L243.36 58.54L243.82 58.93L244.28 59.32L244.73 59.72L245.18 60.12L245.63 60.52L246.06 60.94L246.49 61.36L246.91 61.78L247.31 62.22L247.71 62.66L248.09 63.12L248.47 63.58L248.84 64.06L249.20 64.54L249.56 65.02L249.92 65.51L250.27 66.00L250.62 66.48L250.98 66.97L251.33 67.45L251.69 67.94L252.05 68.42L252.40 68.91L252.76 69.39L253.11 69.88L253.45 70.37L253.79 70.87L254.12 71.37L254.45 71.87L254.77 72.38L255.07 72.89L255.37 73.40L255.67 73.92L255.97 74.45L256.26 74.97L256.54 75.50L256.83 76.03L257.11 76.57L257.38 77.10L257.65 77.64L257.91 78.18L258.17 78.73L258.43 79.27L258.68 79.82L258.92 80.36L259.16 80.91L259.40 81.46L259.63 82.01L259.86 82.56L260.08 83.12L260.31 83.68L260.52 84.24L260.74 84.80L260.95 85.37L261.16 85.93L261.36 86.50L261.55 87.07L261.74 87.64L261.93 88.21L262.11 88.78L262.28 89.35L262.45 89.92L262.62 90.50L262.78 91.08L262.94 91.65L263.09 92.23L263.25 92.82L263.39 93.40L263.54 93.98L263.68 94.57L263.82 95.15L263.95 95.74L264.08 96.32L264.21 96.91L264.34 97.50L264.46 98.08L264.58 98.67L264.70 99.26L264.81 99.85L264.92 100.44L265.03 101.02L265.14 101.62L265.25 102.21L265.35 102.80L265.46 103.39L265.56 103.98L265.66 104.57L265.75 105.17L265.85 105.76L265.95 106.35L266.04 106.94L266.14 107.53L266.23 108.13L266.32 108.72L266.41 109.31L266.50 109.91L266.58 110.50L266.67 111.09L266.75 111.69L266.84 112.28L266.92 112.88L267.00 113.47L267.08 114.07L267.16 114.66L267.25 115.26L267.33 115.85L267.41 116.44L267.49 117.04L267.58 117.63L267.66 118.23L267.75 118.82L267.83 119.41L267.92 120.01L268.01 120.60L268.10 121.20L268.19 121.79L268.27 122.38L268.36 122.98L268.45 123.57L268.53 124.16L268.61 124.76L268.69 125.35L268.77 125.95L268.84 126.54L268.92 127.14L268.99 127.73L269.06 128.33L269.13 128.93L269.19 129.52L269.26 130.12L269.33 130.71L269.39 131.31L269.46 131.91L269.52 132.50L269.58 133.10L269.64 133.70L269.71 134.30L269.77 134.89L269.82 135.49L269.88 136.09L269.94 136.68L270.00 137.28L270.05 137.88L270.11 138.48L270.16 139.07L270.22 139.67L270.27 140.27L270.32 140.87L270.37 141.47L270.42 142.06L270.47 142.66L270.52 143.26L270.57 143.86L270.61 144.45L270.66 145.05L270.71 145.65L270.75 146.25L270.80 146.85L270.84 147.45L270.88 148.04L270.92 148.64L270.97 149.24L271.01 149.84L271.05 150.44L271.09 151.04L271.13 151.64L271.17 152.23L271.21 152.83L271.25 153.43L271.29 154.03L271.33 154.63L271.37 155.23L271.41 155.83L271.45 156.43L271.49 157.02L271.53 157.62L271.57 158.22L271.62 158.82L271.66 159.42L271.70 160.02L271.74 160.62L271.78 161.22L271.82 161.81L271.86 162.41L271.90 163.01L271.94 163.61L271.98 164.21L272.02 164.81L272.06 165.41L272.09 166.00L272.13 166.60L272.17 167.20L272.21 167.80L272.25 168.40L272.29 169.00L272.33 169.60L272.37 170.20L272.40 170.79L272.44 171.39L272.48 171.99L272.52 172.59L272.56 173.19L272.59 173.79L272.63 174.39L272.67 174.99L272.71 175.59L272.74 176.18L272.78 176.78L272.82 177.38L272.85 177.98L272.89 178.58L272.93 179.18L272.96 179.78L273.00 180.38L273.03 180.98L273.07 181.57L273.11 182.17L273.14 182.77L273.18 183.37L273.21 183.97L273.25 184.57L273.28 185.17L273.32 185.77L273.35 186.37L273.39 186.96L273.42 187.56L273.46 188.16L273.49 188.76L273.53 189.36L273.56 189.96L273.60 190.56L273.63 191.16L273.67 191.76L273.70 192.36L273.74 192.95L273.77 193.55L273.81 194.15L273.84 194.75L273.88 195.35L273.91 195.95L273.95 196.55L273.98 197.15L274.02 197.75L274.05 198.35L274.09 198.94L274.12 199.54L274.16 200.14L274.19 200.74L274.22 201.34L274.26 201.94L274.29 202.54L274.33 203.14L274.36 203.74L274.39 204.34L274.43 204.93L274.46 205.53L274.49 206.13L274.53 206.73L274.56 207.33L274.59 207.93L274.62 208.53L274.65 209.13L274.69 209.73L274.72 210.33L274.75 210.93L274.78 211.53L274.81 212.12L274.84 212.72L274.87 213.32L274.90 213.92L274.93 214.52L274.96 215.12L274.98 215.72L275.01 216.32L275.04 216.92L275.07 217.52L275.10 218.12L275.13 218.72L275.15 219.32L275.18 219.92L275.21 220.52L275.24 221.11L275.26 221.71L275.29 222.31L275.32 222.91L275.35 223.51L275.37 224.11L275.40 224.71L275.43 225.31L275.46 225.91L275.49 226.51L275.51 227.11L275.54 227.71L275.57 228.31L275.60 228.91L275.63 229.51L275.66 230.10L275.69 230.70L275.71 231.30L275.74 231.90L275.77 232.50L275.80 233.10L275.83 233.70L275.86 234.30L275.89 234.90L275.92 235.50L275.95 236.10L275.98 236.70L276.01 237.30L276.04 237.90L276.07 238.49L276.10 239.09L276.13 239.69L276.16 240.29L276.19 240.89L276.22 241.49L276.25 242.09L276.28 242.69L276.31 243.29L276.34 243.89L276.37 244.49L276.40 245.09L276.43 245.69L276.46 246.28L276.49 246.88L276.52 247.48L276.55 248.08L276.58 248.68L276.61 249.28L276.64 249.88L276.67 250.48L276.70 251.08L276.73 251.68L276.77 252.28L276.80 252.88L276.83 253.48L276.86 254.07L276.89 254.67L276.92 255.27L276.95 255.87L276.99 256.47L277.02 257.07L277.05 257.67L277.08 258.27L277.11 258.87L277.14 259.47L277.18 260.07L277.21 260.67L277.24 261.26L277.27 261.86L277.30 262.46L277.34 263.06L277.37 263.66L277.40 264.26L277.43 264.86L277.46 265.46L277.49 266.06L277.53 266.66L277.56 267.26L277.59 267.86L277.62 268.45L277.65 269.05L277.68 269.65L277.71 270.25L277.74 270.85L277.77 271.45L277.80 272.05L277.83 272.65L277.86 273.25L277.89 273.85L277.92 274.45L277.94 275.05L277.97 275.65L278.00 276.25L278.02 276.85L278.05 277.45L278.07 278.05L278.10 278.65L278.12 279.24L278.15 279.84L278.17 280.44L278.20 281.04L278.22 281.64L278.25 282.24L278.27 282.84L278.30 283.44L278.32 284.04L278.35 284.64L278.38 285.24L278.41 285.84L278.43 286.44L278.46 287.04L278.49 287.64L278.52 288.24L278.55 288.84L278.59 289.44L278.62 290.03L278.65 290.63L278.69 291.23L278.73 291.83L278.76 292.43L278.80 293.03L278.84 293.62L278.89 294.22L278.93 294.82L278.98 295.42L279.03 296.02L279.08 296.61L279.13 297.21L279.18 297.81L279.24 298.41L279.30 299.01L279.36 299.60L279.42 300.20L279.48 300.80L279.54 301.40L279.61 301.99L279.67 302.59L279.74 303.19L279.81 303.78L279.88 304.38L279.95 304.97L280.02 305.57L280.10 306.16L280.17 306.76L280.24 307.35L280.32 307.95L280.39 308.55L280.47 309.15L280.54 309.75L280.62 310.35L280.71 310.95L280.80 311.54L280.90 312.14L281.01 312.73L281.12 313.31L281.25 313.89L281.39 314.46L281.57 315.14L281.81 315.83L282.07 316.19L282.32 316.00L282.59 315.41L282.85 314.70L283.08 314.10L283.28 313.54L283.48 312.97L283.66 312.40L283.84 311.83L284.01 311.25L284.18 310.67L284.34 310.09L284.51 309.51L284.67 308.93L284.84 308.36L285.01 307.78L285.18 307.21L285.34 306.63L285.51 306.05L285.67 305.48L285.83 304.90L285.99 304.32L286.15 303.74L286.31 303.16L286.47 302.58L286.63 302.01L286.79 301.43L286.96 300.85L287.12 300.27L287.29 299.70L287.45 299.12L287.62 298.54L287.78 297.97L287.95 297.39L288.11 296.81L288.28 296.23L288.44 295.66L288.61 295.08L288.78 294.50L288.95 293.93L289.12 293.35L289.29 292.78L289.46 292.21L289.64 291.63L289.82 291.06L290.00 290.49L290.19 289.92L290.38 289.35L290.57 288.78L290.76 288.21L290.95 287.64L291.15 287.08L291.35 286.51L291.55 285.95L291.75 285.38L291.96 284.82L292.16 284.25L292.37 283.69L292.58 283.13L292.79 282.57L293.01 282.00L293.22 281.45L293.44 280.89L293.66 280.33L293.89 279.78L294.12 279.22L294.35 278.67L294.59 278.12L294.82 277.56L295.06 277.01L295.29 276.46L295.52 275.91L295.76 275.35L295.98 274.80L296.21 274.24L296.43 273.68L296.65 273.12L296.87 272.56L297.08 272.00L297.30 271.44L297.52 270.88L297.74 270.32L297.96 269.76L298.18 269.21L298.41 268.65L298.64 268.10L298.87 267.55L299.11 267.00L299.36 266.45L299.61 265.91L299.86 265.37L300.12 264.83L300.38 264.29L300.65 263.75L300.92 263.21L301.19 262.67L301.47 262.14L301.75 261.61L302.03 261.08L302.32 260.55L302.60 260.02L302.89 259.50L303.18 258.97L303.47 258.45L303.77 257.93L304.07 257.41L304.38 256.89L304.68 256.37L304.99 255.86L305.31 255.35L305.63 254.84L305.95 254.33L306.28 253.83L306.61 253.33L306.95 252.84L307.29 252.35L307.64 251.86L308.00 251.38L308.36 250.90L308.72 250.42L309.09 249.95L309.46 249.47L309.84 249.00L310.22 248.54L310.60 248.07L310.98 247.61L311.36 247.15L311.75 246.69L312.13 246.23L312.52 245.77L312.92 245.32L313.31 244.87L313.71 244.42L314.12 243.97L314.52 243.53L314.93 243.09L315.35 242.66L315.77 242.23L316.19 241.81L316.62 241.40L317.06 240.99L317.50 240.58L317.95 240.18L318.40 239.79L318.86 239.39L319.31 239.00L319.77 238.61L320.22 238.21L320.68 237.82L321.13 237.43L321.58 237.03L322.03 236.63L322.48 236.23L322.94 235.84L323.40 235.46L323.87 235.10L324.35 234.75L324.85 234.41L325.35 234.08L325.86 233.76L326.37 233.45L326.89 233.14L327.40 232.83L327.91 232.51L328.42 232.19L328.92 231.86L329.42 231.53L329.93 231.20L330.43 230.87L330.93 230.54L331.43 230.21L331.93 229.87L332.43 229.54L332.92 229.21L333.42 228.87L333.92 228.54L334.42 228.20L334.92 227.87L335.41 227.53L335.91 227.20L336.41 226.86L336.91 226.53L337.40 226.19L337.90 225.86L338.40 225.52L338.89 225.18L339.39 224.84L339.88 224.51L340.38 224.17L340.88 223.83L341.37 223.49L341.87 223.15L342.36 222.81L342.86 222.48L343.35 222.14L343.85 221.80L344.35 221.47L344.85 221.13L345.35 220.80L345.84 220.46L346.33 220.10L346.83 219.73L347.32 219.37L347.81 219.01L348.30 218.65L348.80 218.32L349.31 218.00L349.82 217.71L350.35 217.45L350.88 217.23L351.43 217.02L352.00 216.82L352.57 216.63L353.15 216.45L353.73 216.29L354.32 216.14L354.92 216.00L355.51 215.89L356.09 215.78L356.68 215.69L357.27 215.59L357.87 215.50L358.46 215.41L359.06 215.33L359.66 215.26L360.26 215.20L360.86 215.15L361.46 215.12L362.06 215.10L362.66 215.10L363.25 215.11L363.85 215.13L364.46 215.15L365.06 215.19L365.66 215.22L366.26 215.26L366.86 215.31L367.45 215.35L368.05 215.40L368.65 215.46L369.25 215.54L369.85 215.63L370.45 215.74L371.04 215.86L371.61 216.00L372.17 216.15L372.72 216.36L373.24 216.63L373.76 216.95L374.27 217.29L374.78 217.64L375.29 217.99L375.80 218.31L376.33 218.60L376.87 218.83L377.43 219.02L378.00 219.19L378.57 219.35L379.16 219.50L379.74 219.64L380.33 219.78L380.92 219.91L381.51 220.06L382.10 220.21L382.68 220.37L383.25 220.55L383.82 220.73L384.39 220.93L384.96 221.13L385.53 221.33L386.09 221.55L386.66 221.77L387.22 221.99L387.77 222.23L388.31 222.47L388.85 222.73L389.38 222.99L389.90 223.27L390.42 223.56L390.94 223.86L391.45 224.18L391.95 224.51L392.45 224.86L392.95 225.21L393.44 225.57L393.92 225.94L394.39 226.31L394.86 226.69L395.32 227.07L395.77 227.46L396.21 227.86L396.64 228.27L397.05 228.69L397.47 229.13L397.87 229.57L398.27 230.02L398.67 230.48L399.06 230.93L399.46 231.39L399.86 231.85L400.26 232.30L400.66 232.74L401.08 233.18L401.48 233.63L401.89 234.08L402.29 234.55L402.69 235.02L403.09 235.47L403.50 235.92L403.92 236.35L404.36 236.75L404.81 237.12L405.28 237.45L405.78 237.80L406.30 238.15L406.85 238.47L407.41 238.72L407.97 238.87L408.54 238.90L409.12 238.90L409.70 238.90L410.29 238.90L410.89 238.90L411.50 238.90L412.12 238.90L412.75 238.90L412.80 238.90" stroke="#800080" stroke-width="1.15" stroke-dasharray="4.3 3.6"/>
<path d="M72.20 47.30L72.80 47.30L73.40 47.30L74.00 47.30L74.60 47.30L75.20 47.30L75.80 47.30L76.40 47.30L77.00 47.30L77.60 47.30L78.20 47.30L78.80 47.30L79.40 47.30L80.00 47.30L80.60 47.30L81.20 47.30L81.80 47.30L82.40 47.30L83.00 47.30L83.60 47.30L84.20 47.30L84.80 47.30L85.40 47.30L86.00 47.30L86.60 47.30L87.20 47.30L87.80 47.30L88.40 47.30L89.00 47.30L89.60 47.30L90.20 47.30L90.80 47.30L91.40 47.30L92.00 47.30L92.60 47.30L93.20 47.30L93.80 47.30L94.40 47.30L95.00 47.30L95.60 47.30L96.20 47.30L96.80 47.30L97.40 47.30L98.00 47.30L98.60 47.30L99.20 47.30L99.80 47.30L100.40 47.30L101.00 47.30L101.60 47.30L102.20 47.30L102.80 47.30L103.40 47.30L104.00 47.30L104.60 47.30L105.20 47.30L105.80 47.30L106.40 47.30L107.00 47.30L107.60 47.30L108.20 47.30L108.80 47.30L109.40 47.30L110.00 47.30L110.60 47.30L111.20 47.30L111.80 47.30L112.40 47.30L113.00 47.30L113.60 47.30L114.20 47.30L114.80 47.30L115.40 47.30L116.00 47.30L116.60 47.30L117.20 47.30L117.80 47.30L118.40 47.30L119.00 47.30L119.60 47.30L120.20 47.30L120.80 47.30L121.40 47.30L122.00 47.30L122.60 47.30L123.20 47.30L123.80 47.30L124.40 47.30L125.00 47.30L125.60 47.30L126.20 47.30L126.80 47.30L127.40 47.30L128.00 47.30L128.60 47.30L129.20 47.30L129.80 47.30L130.40 47.30L131.00 47.30L131.60 47.30L132.20 47.30L132.80 47.30L133.40 47.30L134.00 47.30L134.60 47.30L135.20 47.30L135.80 47.30L136.40 47.30L137.00 47.30L137.60 47.30L138.20 47.30L138.80 47.30L139.40 47.30L140.00 47.30L140.60 47.30L141.20 47.30L141.80 47.30L142.40 47.30L143.00 47.30L143.60 47.30L144.20 47.30L144.80 47.30L145.40 47.30L146.00 47.30L146.60 47.30L147.20 47.30L147.80 47.30L148.40 47.30L149.00 47.30L149.60 47.30L150.20 47.30L150.80 47.30L151.40 47.30L152.00 47.30L152.60 47.30L153.20 47.30L153.80 47.30L154.40 47.30L155.00 47.30L155.60 47.30L156.20 47.30L156.80 47.30L157.40 47.30L158.00 47.30L158.60 47.30L159.20 47.30L159.80 47.30L160.40 47.30L161.00 47.30L161.60 47.30L162.20 47.30L162.80 47.30L163.40 47.30L164.00 47.30L164.60 47.30L165.20 47.30L165.80 47.30L166.40 47.30L167.00 47.30L167.60 47.30L168.20 47.30L168.80 47.30L169.40 47.30L170.00 47.30L170.60 47.30L171.20 47.30L171.80 47.30L172.40 47.30L173.00 47.30L173.60 47.30L174.20 47.30L174.80 47.30L175.40 47.30L176.00 47.30L176.60 47.30L177.20 47.30L177.80 47.30L178.40 47.30L179.00 47.30L179.60 47.30L180.20 47.30L180.80 47.30L181.40 47.30L182.00 47.30L182.60 47.30L183.20 47.30L183.80 47.30L184.40 47.30L185.00 47.30L185.60 47.30L186.20 47.30L186.80 47.30L187.40 47.30L188.00 47.30L188.60 47.30L189.20 47.30L189.80 47.30L190.40 47.30L191.00 47.30L191.60 47.30L192.20 47.30L192.80 47.30L193.40 47.30L194.00 47.30L194.60 47.30L195.20 47.30L195.80 47.30L196.40 47.30L197.00 47.30L197.60 47.30L198.20 47.30L198.80 47.30L199.40 47.30L200.00 47.30L200.60 47.30L201.20 47.30L201.80 47.30L202.40 47.30L203.00 47.30L203.60 47.31L204.20 47.31L204.80 47.31L205.40 47.31L206.00 47.32L206.60 47.32L207.20 47.32L207.80 47.33L208.40 47.33L209.00 47.34L209.60 47.34L210.20 47.35L210.80 47.35L211.40 47.36L212.00 47.36L212.60 47.37L213.20 47.38L213.80 47.38L214.40 47.39L215.00 47.40L215.60 47.41L216.20 47.43L216.80 47.46L217.40 47.50L218.00 47.54L218.60 47.58L219.20 47.63L219.79 47.68L220.39 47.74L220.99 47.80L221.58 47.86L222.18 47.94L222.77 48.03L223.37 48.14L223.96 48.25L224.55 48.37L225.14 48.50L225.72 48.63L226.29 48.77L226.86 48.94L227.43 49.11L228.00 49.31L228.57 49.52L229.13 49.74L229.69 49.97L230.24 50.21L230.79 50.46L231.34 50.71L231.89 50.97L232.43 51.23L232.97 51.48L233.51 51.74L234.04 52.02L234.57 52.30L235.10 52.59L235.62 52.89L236.14 53.20L236.66 53.51L237.17 53.83L237.67 54.15L238.17 54.48L238.66 54.82L239.15 55.16L239.63 55.52L240.11 55.88L240.58 56.25L241.06 56.63L241.52 57.01L241.99 57.39L242.45 57.77L242.91 58.16L243.37 58.54L243.83 58.93L244.29 59.33L244.74 59.72L245.19 60.12L245.63 60.53L246.07 60.94L246.50 61.36L246.92 61.79L247.32 62.22L247.72 62.67L248.10 63.12L248.48 63.59L248.85 64.06L249.21 64.54L249.57 65.03L249.92 65.52L250.28 66.00L250.63 66.49L250.98 66.98L251.34 67.46L251.70 67.94L252.05 68.43L252.41 68.91L252.76 69.40L253.11 69.89L253.46 70.38L253.80 70.88L254.13 71.38L254.45 71.88L254.77 72.39L255.08 72.90L255.38 73.41L255.68 73.93L255.97 74.45L256.26 74.98L256.55 75.51L256.83 76.04L257.11 76.57L257.38 77.11L257.65 77.65L257.92 78.19L258.18 78.73L258.43 79.28L258.68 79.82L258.93 80.37L259.16 80.92L259.40 81.47L259.63 82.02L259.86 82.57L260.09 83.13L260.31 83.69L260.53 84.25L260.74 84.81L260.95 85.38L261.16 85.94L261.36 86.51L261.56 87.08L261.75 87.65L261.93 88.22L262.11 88.79L262.29 89.36L262.46 89.93L262.62 90.51L262.78 91.08L262.94 91.66L263.10 92.24L263.25 92.82L263.40 93.41L263.54 93.99L263.68 94.58L263.82 95.16L263.95 95.75L264.08 96.33L264.21 96.92L264.34 97.51L264.46 98.09L264.58 98.68L264.70 99.27L264.81 99.86L264.93 100.44L265.04 101.03L265.14 101.62L265.25 102.22L265.35 102.81L265.46 103.40L265.56 103.99L265.66 104.58L265.76 105.17L265.85 105.77L265.95 106.36L266.04 106.95L266.14 107.54L266.23 108.14L266.32 108.73L266.41 109.32L266.50 109.92L266.58 110.51L266.67 111.10L266.75 111.70L266.84 112.29L266.92 112.89L267.00 113.48L267.08 114.08L267.16 114.67L267.25 115.27L267.33 115.86L267.41 116.45L267.49 117.05L267.58 117.64L267.66 118.24L267.75 118.83L267.84 119.42L267.92 120.02L268.01 120.61L268.10 121.21L268.19 121.80L268.27 122.39L268.36 122.99L268.45 123.58L268.53 124.17L268.61 124.77L268.69 125.36L268.77 125.96L268.85 126.55L268.92 127.15L268.99 127.74L269.06 128.34L269.13 128.94L269.19 129.53L269.26 130.13L269.33 130.72L269.39 131.32L269.46 131.92L269.52 132.51L269.58 133.11L269.65 133.71L269.71 134.31L269.77 134.90L269.83 135.50L269.88 136.10L269.94 136.69L270.00 137.29L270.05 137.89L270.11 138.49L270.16 139.08L270.22 139.68L270.27 140.28L270.32 140.88L270.37 141.48L270.42 142.07L270.47 142.67L270.52 143.27L270.57 143.87L270.62 144.46L270.66 145.06L270.71 145.66L270.75 146.26L270.80 146.86L270.84 147.46L270.88 148.05L270.93 148.65L270.97 149.25L271.01 149.85L271.05 150.45L271.09 151.05L271.13 151.65L271.17 152.24L271.21 152.84L271.25 153.44L271.29 154.04L271.33 154.64L271.37 155.24L271.41 155.84L271.45 156.44L271.49 157.03L271.53 157.63L271.57 158.23L271.62 158.83L271.66 159.43L271.70 160.03L271.74 160.63L271.78 161.22L271.82 161.82L271.86 162.42L271.90 163.02L271.94 163.62L271.98 164.22L272.02 164.82L272.06 165.42L272.09 166.01L272.13 166.61L272.17 167.21L272.21 167.81L272.25 168.41L272.29 169.01L272.33 169.61L272.37 170.21L272.40 170.80L272.44 171.40L272.48 172.00L272.52 172.60L272.56 173.20L272.59 173.80L272.63 174.40L272.67 175.00L272.71 175.60L272.74 176.19L272.78 176.79L272.82 177.39L272.85 177.99L272.89 178.59L272.93 179.19L272.96 179.79L273.00 180.39L273.03 180.98L273.07 181.58L273.11 182.18L273.14 182.78L273.18 183.38L273.21 183.98L273.25 184.58L273.28 185.18L273.32 185.78L273.35 186.38L273.39 186.97L273.42 187.57L273.46 188.17L273.49 188.77L273.53 189.37L273.56 189.97L273.60 190.57L273.63 191.17L273.67 191.77L273.70 192.37L273.74 192.96L273.77 193.56L273.81 194.16L273.84 194.76L273.88 195.36L273.91 195.96L273.95 196.56L273.98 197.16L274.02 197.76L274.05 198.36L274.09 198.95L274.12 199.55L274.16 200.15L274.19 200.75L274.23 201.35L274.26 201.95L274.29 202.55L274.33 203.15L274.36 203.75L274.39 204.35L274.43 204.94L274.46 205.54L274.49 206.14L274.53 206.74L274.56 207.34L274.59 207.94L274.62 208.54L274.66 209.14L274.69 209.74L274.72 210.34L274.75 210.94L274.78 211.54L274.81 212.13L274.84 212.73L274.87 213.33L274.90 213.93L274.93 214.53L274.96 215.13L274.98 215.73L275.01 216.33L275.04 216.93L275.07 217.53L275.10 218.13L275.13 218.73L275.15 219.33L275.18 219.93L275.21 220.52L275.24 221.12L275.26 221.72L275.29 222.32L275.32 222.92L275.35 223.52L275.38 224.12L275.40 224.72L275.43 225.32L275.46 225.92L275.49 226.52L275.51 227.12L275.54 227.72L275.57 228.32L275.60 228.92L275.63 229.52L275.66 230.11L275.69 230.71L275.72 231.31L275.74 231.91L275.77 232.51L275.80 233.11L275.83 233.71L275.86 234.31L275.89 234.91L275.92 235.51L275.95 236.11L275.98 236.71L276.01 237.31L276.04 237.91L276.07 238.50L276.10 239.10L276.13 239.70L276.16 240.30L276.19 240.90L276.22 241.50L276.25 242.10L276.28 242.70L276.31 243.30L276.34 243.90L276.37 244.50L276.40 245.10L276.43 245.70L276.46 246.29L276.49 246.89L276.52 247.49L276.55 248.09L276.58 248.69L276.61 249.29L276.64 249.89L276.67 250.49L276.70 251.09L276.74 251.69L276.77 252.29L276.80 252.89L276.83 253.49L276.86 254.08L276.89 254.68L276.92 255.28L276.95 255.88L276.99 256.48L277.02 257.08L277.05 257.68L277.08 258.28L277.11 258.88L277.15 259.48L277.18 260.08L277.21 260.68L277.24 261.27L277.27 261.87L277.31 262.47L277.34 263.07L277.37 263.67L277.40 264.27L277.43 264.87L277.46 265.47L277.50 266.07L277.53 266.67L277.56 267.27L277.59 267.87L277.62 268.46L277.65 269.06L277.68 269.66L277.71 270.26L277.74 270.86L277.77 271.46L277.80 272.06L277.83 272.66L277.86 273.26L277.89 273.86L277.92 274.46L277.94 275.06L277.97 275.66L278.00 276.26L278.02 276.86L278.05 277.46L278.07 278.06L278.10 278.65L278.12 279.25L278.15 279.85L278.17 280.45L278.20 281.05L278.22 281.65L278.25 282.25L278.27 282.85L278.30 283.45L278.32 284.05L278.35 284.65L278.38 285.25L278.41 285.85L278.43 286.45L278.46 287.05L278.49 287.65L278.52 288.25L278.55 288.85L278.59 289.44L278.62 290.04L278.65 290.64L278.69 291.24L278.73 291.84L278.76 292.44L278.80 293.04L278.84 293.63L278.89 294.23L278.93 294.83L278.98 295.43L279.03 296.03L279.08 296.62L279.13 297.22L279.18 297.82L279.24 298.42L279.30 299.02L279.36 299.61L279.42 300.21L279.48 300.81L279.54 301.40L279.61 302.00L279.67 302.60L279.74 303.19L279.81 303.79L279.88 304.39L279.95 304.98L280.02 305.58L280.10 306.17L280.17 306.77L280.25 307.36L280.32 307.96L280.39 308.56L280.47 309.16L280.55 309.76L280.63 310.36L280.71 310.96L280.80 311.55L280.90 312.15L281.01 312.74L281.13 313.32L281.25 313.90L281.39 314.47L281.58 315.15L281.82 315.84L282.07 316.20L282.33 315.99L282.60 315.40L282.86 314.69L283.08 314.09L283.29 313.53L283.48 312.96L283.67 312.39L283.84 311.82L284.01 311.24L284.18 310.66L284.34 310.08L284.51 309.50L284.68 308.93L284.84 308.35L285.01 307.77L285.18 307.20L285.34 306.62L285.51 306.04L285.67 305.47L285.83 304.89L285.99 304.31L286.15 303.73L286.31 303.15L286.47 302.57L286.63 302.00L286.80 301.42L286.96 300.84L287.12 300.26L287.29 299.69L287.46 299.11L287.62 298.53L287.78 297.96L287.95 297.38L288.11 296.80L288.28 296.23L288.44 295.65L288.61 295.07L288.78 294.50L288.95 293.92L289.12 293.34L289.29 292.77L289.47 292.20L289.64 291.62L289.82 291.05L290.01 290.48L290.19 289.91L290.38 289.34L290.57 288.77L290.76 288.20L290.96 287.64L291.15 287.07L291.35 286.50L291.55 285.94L291.76 285.37L291.96 284.81L292.17 284.24L292.38 283.68L292.58 283.12L292.80 282.56L293.01 282.00L293.22 281.44L293.44 280.88L293.67 280.32L293.89 279.77L294.12 279.21L294.36 278.66L294.59 278.11L294.83 277.55L295.06 277.00L295.30 276.45L295.53 275.90L295.76 275.34L295.99 274.79L296.21 274.23L296.43 273.67L296.65 273.11L296.87 272.55L297.09 271.99L297.30 271.43L297.52 270.87L297.74 270.31L297.96 269.75L298.18 269.20L298.41 268.64L298.64 268.09L298.87 267.54L299.11 266.99L299.36 266.44L299.61 265.90L299.87 265.36L300.13 264.82L300.39 264.28L300.65 263.74L300.92 263.20L301.20 262.67L301.47 262.13L301.75 261.60L302.04 261.07L302.32 260.54L302.61 260.01L302.90 259.49L303.19 258.97L303.48 258.44L303.78 257.92L304.08 257.40L304.38 256.88L304.69 256.36L305.00 255.85L305.31 255.34L305.63 254.83L305.96 254.32L306.28 253.82L306.62 253.32L306.95 252.83L307.30 252.34L307.65 251.86L308.00 251.37L308.36 250.89L308.73 250.41L309.10 249.94L309.47 249.47L309.84 249.00L310.22 248.53L310.60 248.06L310.98 247.60L311.37 247.14L311.75 246.68L312.14 246.22L312.53 245.77L312.92 245.31L313.32 244.86L313.72 244.41L314.12 243.96L314.53 243.52L314.94 243.08L315.36 242.65L315.77 242.23L316.20 241.80L316.63 241.39L317.07 240.98L317.51 240.58L317.96 240.18L318.41 239.78L318.86 239.38L319.32 238.99L319.77 238.60L320.23 238.21L320.68 237.82L321.13 237.42L321.58 237.02L322.03 236.62L322.49 236.22L322.94 235.83L323.41 235.45L323.88 235.09L324.36 234.74L324.86 234.40L325.36 234.08L325.87 233.76L326.38 233.45L326.90 233.13L327.41 232.82L327.92 232.50L328.43 232.18L328.93 231.85L329.43 231.53L329.93 231.20L330.44 230.87L330.94 230.53L331.43 230.20L331.93 229.87L332.43 229.54L332.93 229.20L333.43 228.87L333.93 228.53L334.43 228.20L334.92 227.86L335.42 227.53L335.92 227.19L336.42 226.86L336.91 226.52L337.41 226.19L337.91 225.85L338.41 225.51L338.90 225.18L339.40 224.84L339.89 224.50L340.39 224.16L340.88 223.82L341.38 223.48L341.87 223.15L342.37 222.81L342.87 222.47L343.36 222.13L343.86 221.80L344.36 221.46L344.86 221.13L345.36 220.80L345.85 220.45L346.34 220.09L346.83 219.73L347.32 219.36L347.81 219.00L348.31 218.65L348.81 218.31L349.32 218.00L349.83 217.71L350.36 217.45L350.89 217.22L351.44 217.01L352.00 216.82L352.58 216.63L353.16 216.45L353.74 216.29L354.33 216.14L354.92 216.00L355.52 215.88L356.10 215.78L356.69 215.69L357.28 215.59L357.88 215.50L358.47 215.41L359.07 215.33L359.67 215.26L360.27 215.20L360.87 215.15L361.47 215.12L362.07 215.10L362.67 215.10L363.26 215.11L363.86 215.13L364.47 215.15L365.07 215.19L365.67 215.22L366.27 215.26L366.87 215.31L367.46 215.36L368.06 215.40L368.66 215.47L369.26 215.54L369.86 215.64L370.46 215.74L371.05 215.87L371.62 216.00L372.18 216.15L372.72 216.36L373.25 216.64L373.77 216.95L374.28 217.29L374.79 217.65L375.30 217.99L375.81 218.32L376.34 218.60L376.88 218.83L377.44 219.02L378.01 219.20L378.58 219.35L379.17 219.50L379.75 219.64L380.34 219.78L380.93 219.92L381.52 220.06L382.11 220.21L382.69 220.37L383.26 220.55L383.83 220.74L384.40 220.93L384.97 221.13L385.54 221.34L386.10 221.55L386.67 221.77L387.22 222.00L387.78 222.23L388.32 222.48L388.86 222.73L389.39 222.99L389.91 223.27L390.43 223.56L390.94 223.87L391.46 224.19L391.96 224.52L392.46 224.86L392.96 225.22L393.45 225.58L393.93 225.95L394.40 226.32L394.87 226.70L395.33 227.08L395.78 227.47L396.21 227.86L396.64 228.27L397.06 228.70L397.47 229.13L397.88 229.58L398.28 230.03L398.67 230.48L399.07 230.94L399.47 231.40L399.86 231.85L400.27 232.30L400.67 232.75L401.08 233.19L401.49 233.63L401.89 234.09L402.29 234.56L402.69 235.02L403.10 235.48L403.51 235.93L403.93 236.35L404.37 236.76L404.82 237.13L405.29 237.46L405.79 237.80L406.31 238.15L406.86 238.47L407.42 238.73L407.98 238.88L408.55 238.90L409.13 238.90L409.71 238.90L410.30 238.90L410.90 238.90L411.51 238.90L412.13 238.90L412.76 238.90L412.80 238.90" stroke="#008000" stroke-width="0.85" stroke-opacity="0.75"/>
<path d="M87.6 205.45H124.5" stroke="#ff0000" stroke-width="1.7" stroke-dasharray="2.0 4.65"/>
<path d="M87.7 225.65H125.2" stroke="#0000ff" stroke-width="1.7"/>
<path d="M87.7 245.6H124.6" stroke="#800080" stroke-width="1.3" stroke-dasharray="4.8 3.16"/>
<path d="M87.7 265.96H125.2" stroke="#008000" stroke-width="0.85" stroke-opacity="0.75"/>
<path d="M72.68 382.30 L72.68 377.90M87.46 382.30 L87.46 377.90M99.53 382.30 L99.53 377.90M109.74 382.30 L109.74 377.90M118.58 382.30 L118.58 377.90M126.37 382.30 L126.37 377.90M133.35 382.30 L133.35 373.90M179.24 382.30 L179.24 377.90M206.09 382.30 L206.09 377.90M225.13 382.30 L225.13 377.90M239.91 382.30 L239.91 377.90M251.98 382.30 L251.98 377.90M262.19 382.30 L262.19 377.90M271.03 382.30 L271.03 377.90M278.82 382.30 L278.82 377.90M285.80 382.30 L285.80 373.90M331.69 382.30 L331.69 377.90M358.54 382.30 L358.54 377.90M377.58 382.30 L377.58 377.90M392.36 382.30 L392.36 377.90M404.43 382.30 L404.43 377.90M414.64 382.30 L414.64 377.90M423.48 382.30 L423.48 377.90M431.27 382.30 L431.27 377.90M438.25 382.30 L438.25 373.90M58.45 45.00 L58.45 49.50M73.22 45.00 L73.22 49.50M85.30 45.00 L85.30 49.50M95.50 45.00 L95.50 49.50M104.34 45.00 L104.34 49.50M112.14 45.00 L112.14 49.50M119.12 45.00 L119.12 53.50M165.01 45.00 L165.01 49.50M191.85 45.00 L191.85 49.50M210.90 45.00 L210.90 49.50M225.67 45.00 L225.67 49.50M237.75 45.00 L237.75 49.50M247.95 45.00 L247.95 49.50M256.79 45.00 L256.79 49.50M264.59 45.00 L264.59 49.50M271.57 45.00 L271.57 53.50M317.46 45.00 L317.46 49.50M344.30 45.00 L344.30 49.50M363.35 45.00 L363.35 49.50M378.12 45.00 L378.12 49.50M390.20 45.00 L390.20 49.50M400.40 45.00 L400.40 49.50M409.24 45.00 L409.24 49.50M417.04 45.00 L417.04 49.50M424.02 45.00 L424.02 53.50M54.00 382.20 L62.40 382.20M469.00 382.20 L460.60 382.20M54.00 348.50 L60.80 348.50M469.00 348.50 L462.20 348.50M54.00 314.80 L62.40 314.80M469.00 314.80 L460.60 314.80M54.00 281.10 L60.80 281.10M469.00 281.10 L462.20 281.10M54.00 247.40 L62.40 247.40M469.00 247.40 L460.60 247.40M54.00 213.70 L60.80 213.70M469.00 213.70 L462.20 213.70M54.00 180.00 L62.40 180.00M469.00 180.00 L460.60 180.00M54.00 146.30 L60.80 146.30M469.00 146.30 L462.20 146.30M54.00 112.60 L62.40 112.60M469.00 112.60 L460.60 112.60M54.00 78.90 L60.80 78.90M469.00 78.90 L462.20 78.90M54.00 44.65 L62.40 44.65M469.00 44.65 L460.60 44.65" stroke="#000" stroke-width="1.60"/>
<path d="M53.72 44.13V383.35" stroke="#000" stroke-width="2.1"/>
<path d="M469.12 44.13V383.35" stroke="#000" stroke-width="2.1"/>
<path d="M52.67 382.30H470.17" stroke="#000" stroke-width="2.1"/>
<path d="M52.67 45.00H470.17" stroke="#000" stroke-width="1.75"/>
</g>
<g font-family="'Liberation Sans', sans-serif" font-weight="bold" font-size="14.67" fill="#000" text-rendering="geometricPrecision">
<text transform="translate(45.00,386.85) scale(1,1.085)" text-anchor="end">0.0</text>
<text transform="translate(45.00,319.45) scale(1,1.085)" text-anchor="end">0.2</text>
<text transform="translate(45.00,252.05) scale(1,1.085)" text-anchor="end">0.4</text>
<text transform="translate(45.00,184.65) scale(1,1.085)" text-anchor="end">0.6</text>
<text transform="translate(45.00,117.25) scale(1,1.085)" text-anchor="end">0.8</text>
<text transform="translate(45.00,49.85) scale(1,1.085)" text-anchor="end">1.0</text>
<text transform="translate(133.35,402.60) scale(1,1.085)" text-anchor="middle">100</text>
<text transform="translate(285.80,402.60) scale(1,1.085)" text-anchor="middle">1000</text>
<text transform="translate(438.25,402.60) scale(1,1.085)" text-anchor="middle">10000</text>
<text transform="translate(119.32,35.60) scale(1,1.085)" text-anchor="middle">10</text>
<text transform="translate(271.77,35.60) scale(1,1.085)" text-anchor="middle">100</text>
<text transform="translate(424.22,35.60) scale(1,1.085)" text-anchor="middle">1000</text>
<text transform="translate(159.40,15.90) scale(1,1.085)">Photon energy (meV)</text>
<text transform="translate(172.40,423.00) scale(1,1.085)">Frequency (cm<tspan dy="-7.2" font-size="10.2">-1</tspan><tspan dy="7.2" dx="0.3">)</tspan></text>
<text transform="translate(16.2,248.0) rotate(-90) scale(1.055,1.10)">Reflectance</text>
<text transform="translate(129.10,211.00) scale(1,1.085)" fill="#ff0000">300 K measured</text>
<text transform="translate(129.10,231.00) scale(1,1.085)" fill="#0000ff">300 K fit</text>
<text transform="translate(129.10,251.20) scale(1,1.085)" fill="#800080">10 K measured</text>
<text transform="translate(129.10,271.30) scale(1,1.085)" fill="#008000">10 K fit</text>
</g>
</svg>
</body>
</html>
